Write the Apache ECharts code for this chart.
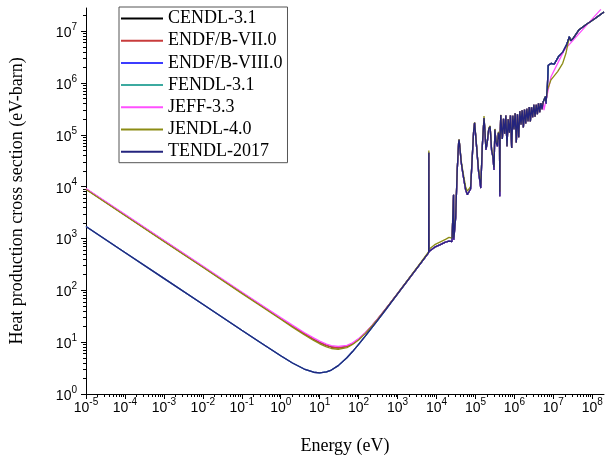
<!DOCTYPE html>
<html><head><meta charset="utf-8">
<script src="https://cdn.jsdelivr.net/npm/echarts@6/dist/echarts.min.js"></script>
<style>html,body{margin:0;padding:0;background:#fff}#c{width:606px;height:460px}</style>
</head><body><div id="c"></div>
<script>
const seriesNames = ['CENDL-3.1','ENDF/B-VII.0','ENDF/B-VIII.0','FENDL-3.1','JEFF-3.3','JENDL-4.0','TENDL-2017'];
const seriesColors = ['#000000','#c83c3c','#3c3cff','#3caaa0','#ff50ff','#8c8c14','#24247e'];

// Smooth low-energy part (eV)
const lowEnergy = [1e-5,1e-4,1e-3,1e-2,1e-1,0.3,1,2,4,7,10,15,20,30,50,70,100,150,200,300,500,1000,2000,4000,6300];
const lowUpper  = [9000,2850,901,285,90.1,52.1,28.6,20.3,14.6,11.4,9.86,8.64,8.07,7.75,8.28,9.36,11.35,15.1,19.0,27.1,43.8,85.9,171,340,535];
const lowJeff   = [9200,2920,925,293,93,54,29.8,21.3,15.4,12.1,10.5,9.2,8.6,8.25,8.7,9.7,11.7,15.4,19.3,27.4,44.1,86.2,171,341,536];
const lowJendl  = [8800,2780,878,278,87.5,50.5,27.6,19.5,13.9,10.8,9.3,8.1,7.55,7.3,7.85,9.0,11.0,14.8,18.8,27.0,43.8,86.5,173,350,560];
const lowLower  = [1700,538,170,53.8,17.0,9.85,5.47,3.97,3.03,2.63,2.55,2.66,2.90,3.53,5.01,6.59,9.04,13.2,17.4,25.8,42.7,85.2,170,340,535];

// Resolved resonance region
const resEnergy = [6350,6420,9000,12600,17000,21000,25000,27000,27400,27800,31000,34000,37000,38000,40000,43000,46000,52000,56000,62000,68000,75000,83000,90000,95000,105000,112000,120000,137000,150000,166000,175000,186000,200000,220000,238000,260000,280000,300000,315000,340000,367000,390000,415000,422000,430000,447000];
const resNavy   = [45000,560,680,760,850,890,870,850,7000,950,2500,20000,70000,80000,55000,30000,21000,12000,8700,7000,6500,9000,38000,120000,170000,70000,38000,20000,9400,60000,210000,120000,51000,69000,130000,145000,50000,38000,21000,126000,70000,60000,110000,80000,6500,90000,240000];
const resOlive  = [50000,620,760,860,960,1050,1020,950,7000,1050,2700,21000,72000,82000,58000,32000,23000,13500,10000,8200,8000,10000,40000,125000,175000,75000,40000,22000,11000,62000,230000,125000,55000,72000,135000,150000,55000,40000,24000,130000,75000,65000,115000,85000,8000,95000,245000];

// Unresolved / dense band region
const bandEnergy = [457000,490000,525000,562000,603000,646000,692000,741000,794000,851000,912000,977000,1047000,1120000,1200000,1290000,1380000,1480000,1580000,1700000,1820000,1950000,2090000,2240000,2400000,2570000,2750000,2950000,3160000,3390000,3630000,3890000,4170000,4470000,4790000,5130000,5500000,5890000,6310000];
const bandValues = [178000,83000,204000,105000,236000,60000,200000,110000,237000,56000,234000,129000,260000,71000,250000,90000,286000,158000,296000,139000,308000,165000,318000,183000,345000,182000,340000,220000,380000,224000,380000,250000,407000,275000,410000,313000,434000,490000,550000];

// High-energy tails
const tailEnergy = [6460000,7000000,7410000,8900000,10500000,13800000,17400000,22000000,25700000,28000000,32000000,45000000,70000000,120000000,200000000];
const tailNavy   = [400000,800000,2200000,2400000,2300000,3300000,3900000,5500000,7800000,6500000,7200000,10500000,13500000,17800000,23500000];
const tailJeffEnergy = [5750000,8700000,15500000,19000000,30000000,63000000,100000000,166000000];
const tailJeff       = [300000,1320000,3160000,4300000,6300000,11700000,17300000,26300000];
const tailJendlEnergy = [6460000,7080000,8700000,12900000,17400000,21000000,25700000,28000000,32000000,45000000,70000000,120000000,200000000];
const tailJendl       = [450000,740000,1150000,1660000,2400000,3700000,7600000,6600000,7200000,10500000,13500000,17800000,23500000];

// Axis ticks
const xMajorTicks = [1e-5,1e-4,1e-3,1e-2,1e-1,1,10,100,1e3,1e4,1e5,1e6,1e7,1e8];
const yMajorTicks = [1,10,100,1e3,1e4,1e5,1e6,1e7];
const xMin = 1e-5, xMax = 2e8, yMin = 1, yMax = 2.8e7;

function pairs(e, v) { return e.map((x, i) => [x, v[i]]); }
function minorTicks(majors, lo, hi) {
  const out = [];
  majors.forEach(m => { for (let k = 2; k <= 9; k++) { const v = m * k; if (v > lo && v < hi) out.push(v); } });
  return out;
}
const bandNavy = pairs(bandEnergy, bandValues);
const navyData = pairs(lowEnergy, lowLower).concat(pairs(resEnergy, resNavy), bandNavy, pairs(tailEnergy, tailNavy));
const upperData = pairs(lowEnergy, lowUpper).concat(pairs(resEnergy, resNavy), bandNavy, pairs(tailEnergy, tailNavy));
const jeffData = pairs(lowEnergy, lowJeff).concat(pairs(resEnergy, resNavy), bandNavy.filter(p => p[0] < tailJeffEnergy[0]), pairs(tailJeffEnergy, tailJeff));
const jendlData = pairs(lowEnergy, lowJendl).concat(pairs(resEnergy, resOlive), bandNavy, pairs(tailJendlEnergy, tailJendl));
const seriesData = [upperData, upperData, navyData, navyData, jeffData, jendlData, navyData];

function supLabel(v) { return '{b|10}{s|' + Math.round(Math.log10(v)) + '}'; }
const labelRich = {
  b: { fontFamily: 'Liberation Sans', fontSize: 14, lineHeight: 18, verticalAlign: 'bottom', color: '#000' },
  s: { fontFamily: 'Liberation Sans', fontSize: 10, lineHeight: 8, verticalAlign: 'top', color: '#000' }
};

const chart = echarts.init(document.getElementById('c'), null, { renderer: 'canvas' });
chart.setOption({
  animation: false,
  backgroundColor: '#fff',
  grid: { left: 86, right: 2, top: 8, bottom: 65, containLabel: false },
  legend: {
    orient: 'vertical', left: 119, top: 7,
    icon: 'rect', itemWidth: 42, itemHeight: 2, itemGap: 4.2,
    padding: [2.5, 5, 2, 2],
    borderColor: '#555', borderWidth: 1, backgroundColor: '#fff',
    textStyle: { fontFamily: 'Liberation Serif', fontSize: 18, lineHeight: 18, color: '#000' },
    data: seriesNames
  },
  xAxis: [{
    type: 'log', logBase: 10, min: xMin, max: xMax,
    name: 'Energy (eV)', nameLocation: 'middle', nameGap: 43,
    nameTextStyle: { fontFamily: 'Liberation Serif', fontSize: 18, color: '#000' },
    axisLine: { show: true, lineStyle: { color: '#000', width: 1 } },
    axisTick: { show: true, customValues: xMajorTicks, length: 5, lineStyle: { color: '#000' } },
    axisLabel: { customValues: xMajorTicks, formatter: supLabel, rich: labelRich, margin: 3 },
    splitLine: { show: false }
  }, {
    type: 'log', logBase: 10, min: xMin, max: xMax, position: 'bottom',
    axisLine: { show: false },
    axisTick: { show: true, customValues: minorTicks(xMajorTicks, xMin, xMax), length: 3, lineStyle: { color: '#000' } },
    axisLabel: { show: false }, splitLine: { show: false }
  }],
  yAxis: [{
    type: 'log', logBase: 10, min: yMin, max: yMax,
    name: 'Heat production cross section (eV-barn)', nameLocation: 'middle', nameGap: 60,
    nameTextStyle: { fontFamily: 'Liberation Serif', fontSize: 18, color: '#000' },
    axisLine: { show: true, lineStyle: { color: '#000', width: 1 } },
    axisTick: { show: true, customValues: yMajorTicks, length: 5, lineStyle: { color: '#000' } },
    axisLabel: { customValues: yMajorTicks, formatter: supLabel, rich: labelRich, margin: 9 },
    splitLine: { show: false }
  }, {
    type: 'log', logBase: 10, min: yMin, max: yMax, position: 'left',
    axisLine: { show: false },
    axisTick: { show: true, customValues: minorTicks(yMajorTicks, yMin, yMax), length: 3, lineStyle: { color: '#000' } },
    axisLabel: { show: false }, splitLine: { show: false }
  }],
  series: seriesNames.map((n, i) => ({
    name: n, type: 'line', data: seriesData[i], symbol: 'none', showSymbol: false,
    xAxisIndex: 0, yAxisIndex: 0,
    color: seriesColors[i],
    lineStyle: { width: 1.3, color: seriesColors[i] },
    emphasis: { disabled: true }
  }))
});
</script></body></html>
